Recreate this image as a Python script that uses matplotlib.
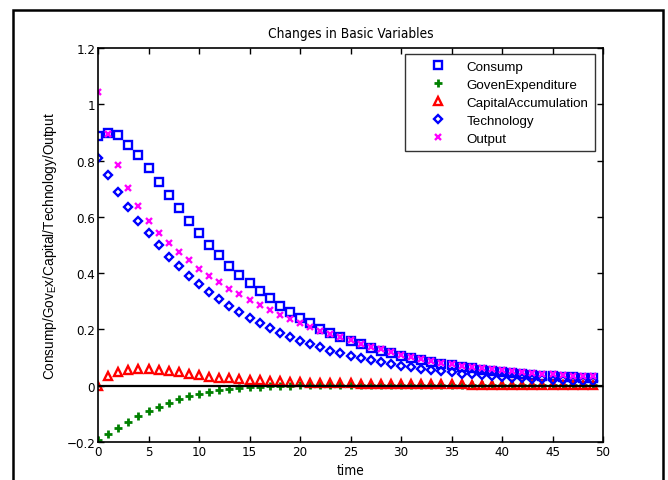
import matplotlib
matplotlib.use("Agg")
import matplotlib.pyplot as plt
from matplotlib.patches import Rectangle
from matplotlib import font_manager as fm

time = list(range(50))
consump = [0.886, 0.897, 0.890, 0.856, 0.820, 0.775, 0.725, 0.676, 0.631, 0.586,
           0.541, 0.499, 0.463, 0.427, 0.393, 0.366, 0.337, 0.310, 0.284, 0.262,
           0.241, 0.223, 0.203, 0.188, 0.173, 0.159, 0.147, 0.135, 0.125, 0.115,
           0.105, 0.097, 0.090, 0.084, 0.077, 0.072, 0.066, 0.062, 0.057, 0.053,
           0.049, 0.045, 0.042, 0.039, 0.036, 0.034, 0.032, 0.030, 0.028, 0.027]
gov = [-0.192, -0.171, -0.149, -0.128, -0.108, -0.090, -0.074, -0.060, -0.048, -0.038,
       -0.029, -0.022, -0.016, -0.011, -0.008, -0.005, -0.003, -0.002, -0.001, 0.000,
       0.001, 0.001, 0.002, 0.002, 0.002, 0.002, 0.002, 0.002, 0.002, 0.002,
       0.002, 0.002, 0.002, 0.002, 0.002, 0.002, 0.002, 0.001, 0.001, 0.001,
       0.001, 0.001, 0.001, 0.001, 0.001, 0.001, 0.001, 0.001, 0.001, 0.001]
capital = [0.000, 0.033, 0.047, 0.056, 0.060, 0.059, 0.057, 0.053, 0.047, 0.042,
           0.037, 0.032, 0.029, 0.026, 0.023, 0.020, 0.019, 0.017, 0.016, 0.014,
           0.013, 0.011, 0.010, 0.009, 0.009, 0.008, 0.007, 0.007, 0.007, 0.006,
           0.006, 0.006, 0.005, 0.005, 0.005, 0.005, 0.005, 0.004, 0.004, 0.004,
           0.004, 0.004, 0.004, 0.004, 0.004, 0.004, 0.003, 0.003, 0.003, 0.003]
technology = [0.808, 0.747, 0.688, 0.635, 0.585, 0.541, 0.499, 0.459, 0.424, 0.391,
              0.360, 0.332, 0.307, 0.283, 0.262, 0.241, 0.222, 0.205, 0.189, 0.174,
              0.160, 0.148, 0.136, 0.125, 0.116, 0.106, 0.098, 0.090, 0.083, 0.077,
              0.071, 0.065, 0.060, 0.055, 0.051, 0.047, 0.043, 0.040, 0.037, 0.034,
              0.031, 0.029, 0.027, 0.025, 0.023, 0.021, 0.019, 0.018, 0.016, 0.015]
output = [1.042, 0.896, 0.786, 0.703, 0.638, 0.585, 0.543, 0.508, 0.474, 0.445,
          0.416, 0.391, 0.368, 0.345, 0.326, 0.306, 0.287, 0.270, 0.253, 0.237,
          0.223, 0.208, 0.196, 0.184, 0.173, 0.161, 0.150, 0.139, 0.129, 0.120,
          0.110, 0.102, 0.095, 0.089, 0.082, 0.077, 0.071, 0.067, 0.062, 0.058,
          0.055, 0.051, 0.048, 0.045, 0.042, 0.040, 0.038, 0.036, 0.035, 0.034]

labels = ["Consump", "GovenExpenditure", "CapitalAccumulation", "Technology", "Output"]
xticks = list(range(0, 51, 5))
yticks = [-0.2, 0, 0.2, 0.4, 0.6, 0.8, 1.0, 1.2]
yticklabels = ["\u22120.2", "0", "0.2", "0.4", "0.6", "0.8", "1", "1.2"]

plt.rcParams['font.family'] = ['Liberation Sans', 'DejaVu Sans']

def cond(size):
    return fm.FontProperties(family='DejaVu Sans', stretch='condensed', size=size)

W, H = 668, 481
fig = plt.figure(figsize=(W / 100, H / 100), dpi=100)
fig.patches.append(Rectangle((13 / W, -0.1), 650 / W, (H - 11) / H + 0.1,
                             transform=fig.transFigure, fill=False,
                             edgecolor='black', linewidth=1.8))
ax = fig.add_axes([98 / W, 1 - 443 / H, 505 / W, 394 / H])

ms = 6.0
mew = 1.7
ax.plot(time, consump, linestyle='none', marker='s', markersize=ms,
        markerfacecolor='none', markeredgecolor='#0000ff', markeredgewidth=mew, label=labels[0])
ax.plot(time, gov, linestyle='none', marker='+', markersize=ms,
        markeredgecolor='#008000', markeredgewidth=mew + 0.3, label=labels[1])
ax.plot(time, capital, linestyle='none', marker='^', markersize=ms,
        markerfacecolor='none', markeredgecolor='#ff0000', markeredgewidth=mew, label=labels[2])
ax.plot(time, technology, linestyle='none', marker='D', markersize=ms - 1.6,
        markerfacecolor='none', markeredgecolor='#0000ff', markeredgewidth=mew, label=labels[3])
ax.plot(time, output, linestyle='none', marker='x', markersize=ms - 1.8,
        markeredgecolor='#ff00ff', markeredgewidth=mew, label=labels[4])
ax.axhline(0, color='black', linewidth=1.6, zorder=5)

ax.set_xlim(0, 50)
ax.set_ylim(-0.2, 1.2)
ax.set_xticks(xticks)
ax.set_xticklabels([str(v) for v in xticks], fontproperties=cond(9.5))
ax.set_yticks(yticks)
ax.set_yticklabels(yticklabels, fontproperties=cond(9.5))
ax.tick_params(direction='in', length=4, width=1, top=True, right=True, pad=2)
for s in ax.spines.values():
    s.set_linewidth(1.2)

ax.set_title("Changes in Basic Variables", fontproperties=cond(9.8), pad=8)
ax.set_xlabel("time", fontproperties=cond(9.8), labelpad=4)
ax.set_ylabel("Consump/Gov$_\\mathregular{E}$x/Capital/Technology/Output", fontsize=9.8, labelpad=5)

leg = ax.legend(loc='upper right', bbox_to_anchor=(595 / W, 1 - 55 / H),
                bbox_transform=fig.transFigure, prop={'size': 9.6}, frameon=True,
                fancybox=False, edgecolor='black', borderpad=0.5, labelspacing=0.42,
                handletextpad=0.2, handlelength=3.9, borderaxespad=0)
leg.get_frame().set_linewidth(1.0)

fig.savefig("out.png", dpi=100)
